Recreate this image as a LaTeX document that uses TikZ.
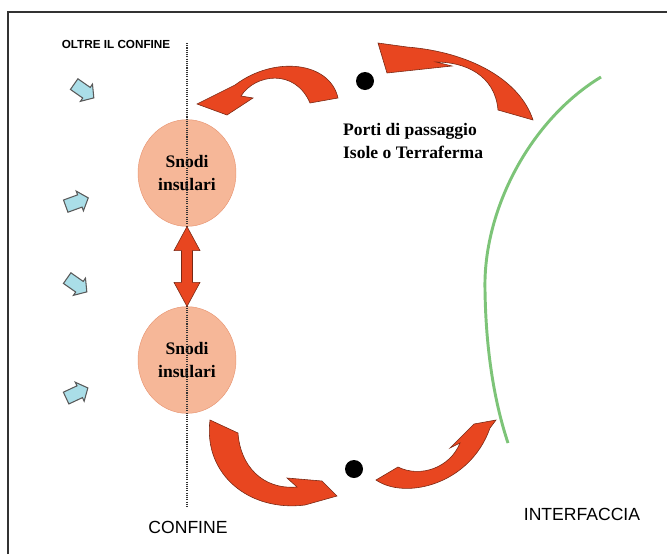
\documentclass[tikz,border=0pt]{standalone}
\usepackage{fontspec}
\setmainfont{Liberation Serif}
\setsansfont{Liberation Sans}
\usetikzlibrary{shapes.geometric,calc}
\definecolor{salmon}{RGB}{246,183,152}
\definecolor{salmonline}{RGB}{232,150,115}
\definecolor{arrowred}{RGB}{232,70,32}
\definecolor{arrowline}{RGB}{120,40,20}
\definecolor{skyblue}{RGB}{170,222,232}
\definecolor{grassgreen}{RGB}{125,196,120}
\begin{document}
\begin{tikzpicture}[x=0.03cm,y=-0.03cm,
  island/.style={ellipse,fill=salmon,draw=salmonline,minimum width=2.94cm,minimum height=3.2cm,inner sep=0pt,align=center,font=\fontsize{15}{19.5}\selectfont\bfseries},
  port/.style={circle,fill=black,minimum size=0.54cm,inner sep=0pt},
  redarrow/.style={fill=arrowred,draw=arrowline,line width=0.5pt},
  bluearrow/.style={fill=skyblue,draw=black!65,line width=0.9pt},
  signtext/.style={font=\sffamily\fontsize{15}{18}\selectfont},
  pics/inflow/.style={code={\filldraw[bluearrow] (-12,-6.5) -- (3,-6.5) -- (3,-10.5) -- (12,0) -- (3,10.5) -- (3,6.5) -- (-12,6.5) -- cycle;}}]
\useasboundingbox (0,0) rectangle (667,554);
\draw[line width=1.5pt,black!80] (8,554) -- (8,12) -- (667,12);
%\draw[red] (0,0) rectangle (667,554);
\node[island] (snA) at (187,173) {Snodi\\insulari};
\node[island] (snB) at (187,360) {Snodi\\insulari};
\draw[densely dotted,line width=0.9pt,black!80] (187,43) -- (187,507);
\node[font=\sffamily\bfseries\fontsize{10}{12}\selectfont] (beyond) at (116,44) {OLTRE IL CONFINE};
\node[signtext] (confine) at (188,527) {CONFINE};
\node[signtext] (interface) at (582,514) {INTERFACCIA};
\node[anchor=west,align=left,font=\bfseries\fontsize{15}{19}\selectfont] (ports) at (339,141) {Porti di passaggio\\Isole o Terraferma};
\node[port] (portN) at (365,81) {};
\node[port] (portS) at (354,469) {};
\foreach \px/\py/\ang in {84/91/-35,77/202/20,77/285/-35,77/393/25}
  \pic[rotate=\ang] at (\px,\py) {inflow};
\draw[grassgreen,line width=2.5pt] (601,77) .. controls (530,120) and (483,210) .. (485,290) .. controls (486,360) and (497,410) .. (508,443);
% link between the two nodes
\filldraw[redarrow] (snA.south) -- ++(13,24) -- ++(-7.5,0) -- ($(snB.north)+(5.5,-24)$) -- ++(7.5,0) -- (snB.north) -- ++(-13,-24) -- ++(7.5,0) -- ($(snA.south)+(-5.5,24)$) -- ++(-7.5,0) -- cycle;
% curved arrows
\filldraw[redarrow] (338,98) .. controls (330,62) and (275,55) .. (235,85) -- (197,104) -- (227,115) -- (253,98) -- (241,96) .. controls (255,74) and (295,68) .. (310,103) -- cycle;
\filldraw[redarrow] (533,120) .. controls (520,80) and (470,52) .. (407,47) -- (378,43) -- (387,73) -- (452,66) -- (436,62) .. controls (465,62) and (495,75) .. (498,110) -- cycle;
\filldraw[redarrow] (210,420) .. controls (203,475) and (250,512) .. (305,505) -- (337,496) -- (322,481) -- (287,478) -- (297,487) .. controls (262,490) and (240,465) .. (238,433) -- cycle;
\filldraw[redarrow] (376,480) .. controls (405,500) and (470,485) .. (490,428) -- (496,420) -- (474,424) -- (450,448) -- (460,443) .. controls (450,468) and (420,478) .. (398,467) -- cycle;
\end{tikzpicture}
\end{document}
